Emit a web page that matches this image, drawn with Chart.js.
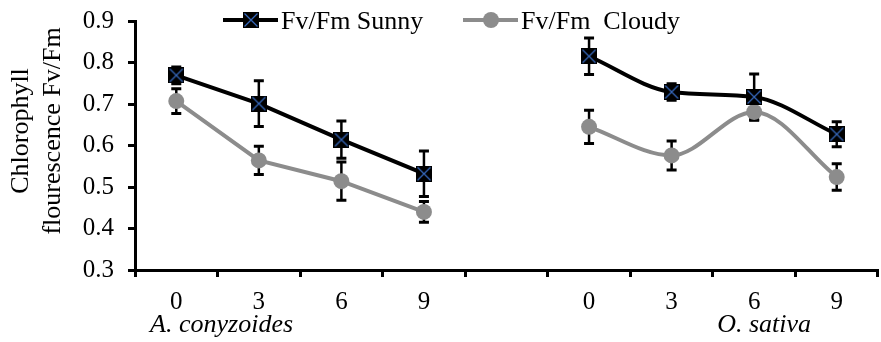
<!DOCTYPE html>
<html>
<head>
<meta charset="utf-8">
<script src="https://cdn.jsdelivr.net/npm/chart.js@4"></script>
<style>
body{margin:0;overflow:hidden;background:#fff;}
#wrap{width:890px;height:342px;}
</style>
</head>
<body>
<div id="wrap"><canvas id="fvChart"></canvas></div>
<script>
// days after treatment, per species
const times = ["0","3","6","9"];
const yTicks = [0.3,0.4,0.5,0.6,0.7,0.8,0.9];

// A. conyzoides
const sunnyAc = [0.769,0.701,0.614,0.532];
const sunnyAcErr = [0.02,0.055,0.045,0.055];
const cloudyAc = [0.707,0.564,0.514,0.440];
const cloudyAcErr = [0.03,0.034,0.046,0.025];

// O. sativa
const sunnyOs = [0.815,0.729,0.717,0.627];
const sunnyOsErr = [0.044,0.02,0.055,0.03];
const cloudyOs = [0.645,0.576,0.681,0.524];
const cloudyOsErr = [0.04,0.035,0.02,0.032];

const FONT = '"Liberation Serif","Times New Roman",serif';
const GREY = "#8c8c8c";

const labels = [...times, "", ...times];
const gap = [null,null,null,null,null];
function left(a){ return [...a, ...gap]; }
function right(a){ return [...gap, ...a]; }

// black square with blue cross
const sunnyMarker = (function(){
const c = document.createElement("canvas");
c.width = 16; c.height = 16;
const g = c.getContext("2d");
g.fillStyle = "#000";
g.fillRect(0,0,16,16);
g.strokeStyle = "#3566b8";
g.lineWidth = 1.3;
g.beginPath();
g.moveTo(1.5,1.5); g.lineTo(14.5,14.5);
g.moveTo(14.5,1.5); g.lineTo(1.5,14.5);
g.stroke();
return c;
})();

function sunnySet(data, err, smooth){
return {label:"Fv/Fm Sunny", data:data, errors:err, borderColor:"#000", borderWidth:4,
pointStyle:sunnyMarker, pointRadius:8, cubicInterpolationMode:smooth ? "monotone" : "default",
tension:smooth ? 0.4 : 0, spanGaps:false};
}
function cloudySet(data, err, smooth){
return {label:"Fv/Fm  Cloudy", data:data, errors:err, borderColor:GREY, borderWidth:4,
pointStyle:"circle", pointRadius:8, pointBackgroundColor:GREY, pointBorderColor:GREY, pointBorderWidth:0,
cubicInterpolationMode:smooth ? "monotone" : "default", tension:smooth ? 0.4 : 0, spanGaps:false};
}

const errorBars = {
id:"errorBars",
beforeDatasetsDraw(chart){
const ctx = chart.ctx;
const y = chart.scales.y;
ctx.save();
ctx.strokeStyle = "#000";
chart.data.datasets.forEach((ds, di) => {
const meta = chart.getDatasetMeta(di);
ds.data.forEach((v, i) => {
if(v === null) return;
const e = ds.errors[i - (i > 4 ? 5 : 0)];
const x = meta.data[i].x;
const yt = y.getPixelForValue(v + e);
const yb = y.getPixelForValue(v - e);
ctx.lineWidth = 2.5;
ctx.beginPath();
ctx.moveTo(x, yt); ctx.lineTo(x, yb);
ctx.stroke();
ctx.lineWidth = 3;
ctx.beginPath();
ctx.moveTo(x-5, yt); ctx.lineTo(x+5, yt);
ctx.moveTo(x-5, yb); ctx.lineTo(x+5, yb);
ctx.stroke();
});
});
ctx.restore();
}
};

const extras = {
id:"extras",
afterDraw(chart){
const ctx = chart.ctx;
const x = chart.scales.x;
ctx.save();
ctx.fillStyle = "#000";

// y title
ctx.save();
ctx.translate(0, 131);
ctx.rotate(-Math.PI/2);
ctx.font = "26px " + FONT;
ctx.textAlign = "center";
ctx.textBaseline = "alphabetic";
ctx.fillText("Chlorophyll", 0, 28);
ctx.fillText("flourescence Fv/Fm", 0, 60);
ctx.restore();

// species names
ctx.font = "italic 26px " + FONT;
ctx.textBaseline = "alphabetic";
ctx.textAlign = "center";
ctx.fillText("A. conyzoides", (x.getPixelForValue(0) + x.getPixelForValue(1)) / 2 + 4, 332);
ctx.fillText("O. sativa", x.getPixelForValue(7) + 10, 332);

// legend
const items = [
{x:223, text:"Fv/Fm Sunny", color:"#000", sunny:true},
{x:463, text:"Fv/Fm  Cloudy", color:GREY, sunny:false}
];
const ly = 20;
items.forEach(it => {
ctx.strokeStyle = it.color;
ctx.lineWidth = 4;
ctx.beginPath();
ctx.moveTo(it.x, ly); ctx.lineTo(it.x + 55, ly);
ctx.stroke();
const cx = it.x + 28;
if(it.sunny){
ctx.drawImage(sunnyMarker, cx - 8, ly - 8);
}else{
ctx.fillStyle = GREY;
ctx.beginPath();
ctx.arc(cx, ly, 8, 0, Math.PI*2);
ctx.fill();
}
ctx.fillStyle = "#000";
ctx.font = "26px " + FONT;
ctx.textAlign = "left";
ctx.textBaseline = "middle";
ctx.fillText(it.text, it.x + 58, ly + 2);
});
ctx.restore();
}
};

new Chart(document.getElementById("fvChart"), {
type:"line",
data:{
labels:labels,
datasets:[
sunnySet(left(sunnyAc), sunnyAcErr, false),
sunnySet(right(sunnyOs), sunnyOsErr, true),
cloudySet(left(cloudyAc), cloudyAcErr, false),
cloudySet(right(cloudyOs), cloudyOsErr, true)
]
},
options:{
responsive:true,
maintainAspectRatio:false,
animation:false,
layout:{padding:{left:0,top:21,right:1,bottom:0}},
plugins:{legend:{display:false}, tooltip:{enabled:false}},
scales:{
x:{
offset:true,
afterFit(s){ s.height = 72; },
border:{color:"#000", width:3},
grid:{offset:true, drawOnChartArea:false, tickLength:7, color:"#000", tickWidth:3},
ticks:{color:"#000", font:{family:FONT, size:25}, padding:10, maxRotation:0, autoSkip:false}
},
y:{
min:0.3, max:0.9,
afterFit(s){ s.width = 135; s.paddingTop = 0; s.paddingBottom = 0; },
afterBuildTicks(s){ s.ticks = yTicks.map(v => ({value:v})); },
border:{color:"#000", width:3},
grid:{drawOnChartArea:false, tickLength:7, color:"#000", tickWidth:3},
ticks:{color:"#000", font:{family:FONT, size:25}, padding:14, callback:v => v.toFixed(1)}
}
}
},
plugins:[errorBars, extras]
});
</script>
</body>
</html>
